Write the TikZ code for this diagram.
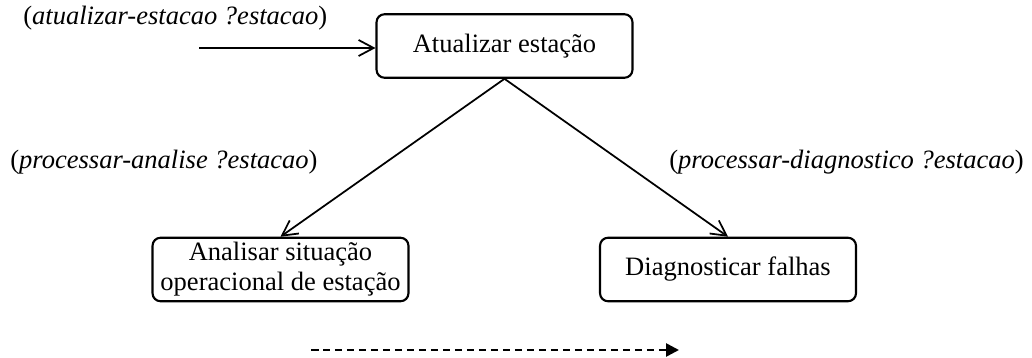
\documentclass[tikz,border=0pt]{standalone}
\usepackage{fontspec}
\setmainfont{Liberation Serif}
\usetikzlibrary{arrows.meta}

\begin{document}
\begin{tikzpicture}[
            x=0.02cm, y=-0.02cm,
            font=\fontsize{15.1}{17}\selectfont,
            tarefa/.style={
                draw,
                line width=1.2pt,
                rounded corners=1.6mm,
                minimum width=5.12cm,
                minimum height=1.27cm,
                inner sep=2pt,
                align=center
            },
            rotulo/.style={
                anchor=base west,
                inner sep=0pt
            },
            seta/.style={
                line width=1pt,
                -{Straight Barb[length=3mm, width=3.2mm]}
            }
        ]

            \useasboundingbox (0, 0) rectangle (1032, 358);

            \node[tarefa] (atualizar) at (504.5, 46) {Atualizar estação};
            \node[tarefa] (analisar) at (280.5, 269.5)
                {Analisar situação\\operacional de estação};
            \node[tarefa] (diagnosticar) at (728, 269.5) {Diagnosticar falhas};

            \node[rotulo] (rotatualizar) at (23, 25)
                {(\textit{atualizar-estacao ?estacao})};
            \node[rotulo] (rotanalise) at (10, 169)
                {(\textit{processar-analise ?estacao})};
            \node[rotulo] (rotdiagnostico) at (669, 169)
                {(\textit{processar-diagnostico ?estacao})};

            \coordinate (entrada) at (199, 48);
            \coordinate (tempoini) at (311, 350);
            \coordinate (tempofim) at (679, 350);

            \draw[seta] (entrada) -- (entrada -| atualizar.west);
            \draw[seta] (atualizar.south) -- (analisar.north);
            \draw[seta] (atualizar.south) -- (diagnosticar.north);

            % eixo do tempo
            \draw[line width=1.5pt, dash pattern=on 1.5mm off 0.9mm,
                -{Triangle[length=2.6mm, width=2.6mm]}] (tempoini) -- (tempofim);

        \end{tikzpicture}
\end{document}
